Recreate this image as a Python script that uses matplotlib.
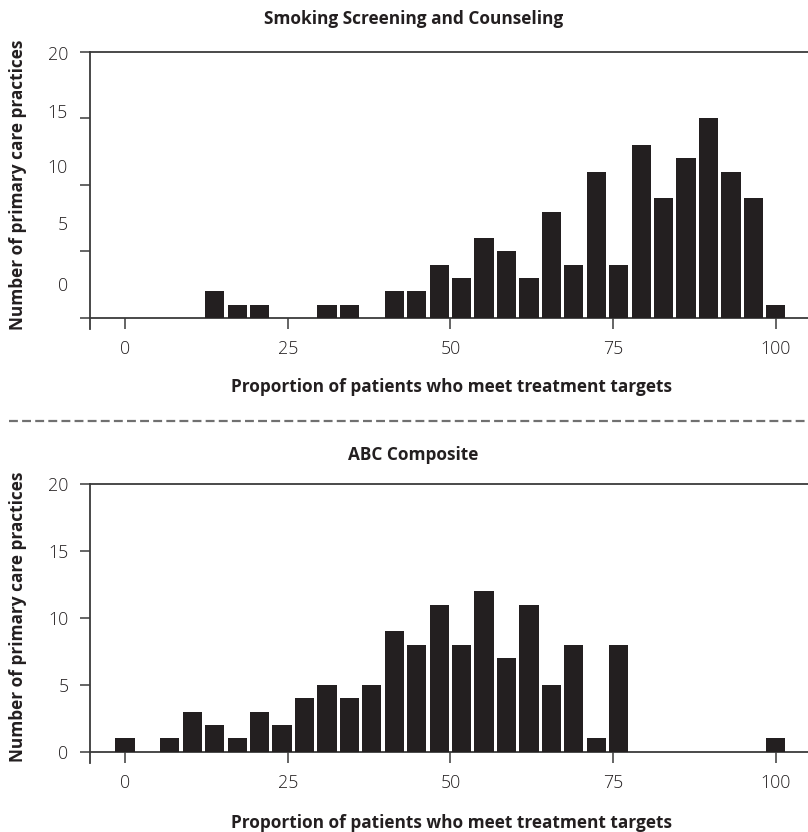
import numpy as np
import matplotlib
matplotlib.use("Agg")
from matplotlib import pyplot as plt

plt.rcParams['font.family'] = ['Open Sans', 'DejaVu Sans']

# 30 bins, centres spread evenly from 0 to 100
bin_centres = np.arange(30) * 100 / 29

smoking_counts = [0, 0, 0, 0, 2, 1, 1, 0, 0, 1, 1, 0, 2, 2, 4,
                  3, 6, 5, 3, 8, 4, 11, 4, 13, 9, 12, 15, 11, 9, 1]
abc_counts = [1, 0, 1, 3, 2, 1, 3, 2, 4, 5, 4, 5, 9, 8, 11,
              8, 12, 7, 11, 5, 8, 1, 8, 0, 0, 0, 0, 0, 0, 1]

x_ticks = [0, 25, 50, 75, 100]
y_ticks = [0, 5, 10, 15, 20]
y_labels = ['0', '5', '10', '15', '20']
# the top panel's y labels sit off their ticks in the original
smoking_label_pos = [2.55, 7.15, 11.4, 15.6, 19.9]

titles = ['Smoking Screening and Counseling', 'ABC Composite']
xlabel = 'Proportion of patients who meet treatment targets'
ylabel = 'Number of primary care practices'

bar_col = '#231f20'
axis_col = '#3a3a3a'
text_col = '#231f20'
tick_fs = 12.8
bold_fs = 12.4

W, H = 808, 832
fig = plt.figure(figsize=(W / 100, H / 100), dpi=100)


def px_axes(left, top, right, bottom):
    return fig.add_axes([left / W, 1 - bottom / H, (right - left) / W, (bottom - top) / H])


def style(ax, counts):
    xs = [x for x, c in zip(bin_centres, counts) if c > 0]
    cs = [c for c in counts if c > 0]
    ax.bar(xs, cs, width=2.95, color=bar_col, linewidth=0, zorder=3)
    ax.set_xlim(-5.38, 104.95)
    ax.set_ylim(-0.83, 20)
    ax.spines['right'].set_visible(False)
    ax.spines['bottom'].set_position(('data', 0))
    for s in ['left', 'top', 'bottom']:
        ax.spines[s].set_color(axis_col)
        ax.spines[s].set_linewidth(1.3)
    ax.set_xticks(x_ticks)
    ax.tick_params(axis='x', direction='out', length=8, width=1.1, color=axis_col,
                   labelsize=tick_fs, labelcolor=text_col, pad=8)
    ax.tick_params(axis='y', which='both', direction='out', width=1.1, color=axis_col,
                   labelsize=tick_fs, labelcolor=text_col, pad=8.5)
    for lab in ax.get_xticklabels(which='both') + ax.get_yticklabels(which='both'):
        lab.set_fontweight('light')


# top panel
ax1 = px_axes(90, 52, 808, 329)
style(ax1, smoking_counts)
ax1.set_yticks(y_ticks)
ax1.set_yticklabels([])
ax1.tick_params(axis='y', which='major', length=7)
ax1.set_yticks(smoking_label_pos, minor=True)
ax1.set_yticklabels(y_labels, minor=True, fontweight='light')
ax1.tick_params(axis='y', which='minor', length=0, pad=15.8)

# bottom panel
ax2 = px_axes(90, 484, 808, 763)
style(ax2, abc_counts)
ax2.set_yticks(y_ticks)
ax2.set_yticklabels(y_labels, fontweight='light')
ax2.tick_params(axis='y', which='major', length=7)
ax1.set_xticklabels([str(t) for t in x_ticks], fontweight='light')
ax2.set_xticklabels([str(t) for t in x_ticks], fontweight='light')

for ax, yc in [(ax1, 0.52), (ax2, 0.524)]:
    ax.set_ylabel(ylabel, fontsize=bold_fs, fontweight='bold', color=text_col)
    ax.yaxis.set_label_coords(-0.0877, yc)

fig.text(414 / W, 1 - 19 / H, titles[0], ha='center', va='center',
         fontsize=bold_fs, fontweight='bold', color=text_col)
fig.text(413 / W, 1 - 455 / H, titles[1], ha='center', va='center',
         fontsize=bold_fs, fontweight='bold', color=text_col)
fig.text(451 / W, 1 - 387 / H, xlabel, ha='center', va='center',
         fontsize=bold_fs, fontweight='bold', color=text_col)
fig.text(451 / W, 1 - 823 / H, xlabel, ha='center', va='center',
         fontsize=bold_fs, fontweight='bold', color=text_col)

# dashed divider between the panels
fig.add_artist(plt.Line2D([9 / W, 1], [1 - 421 / H, 1 - 421 / H], transform=fig.transFigure,
                          color='#707070', linewidth=1.6, linestyle=(0, (4.0, 1.9))))

fig.savefig('out.png', dpi=100)
